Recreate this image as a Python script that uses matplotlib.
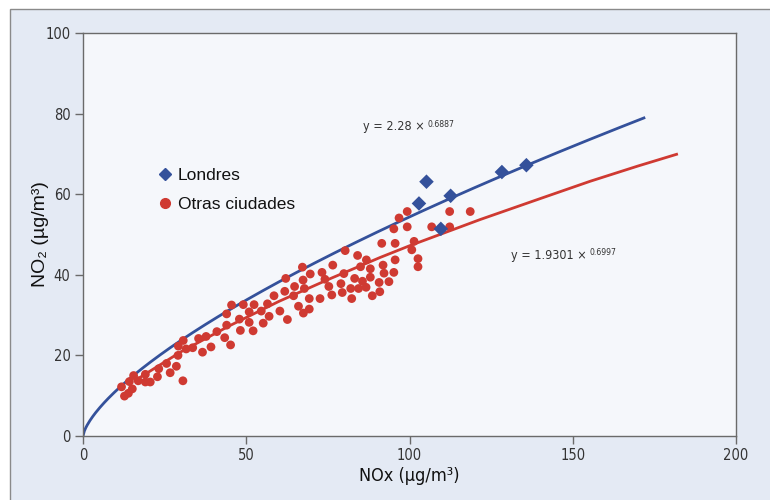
import matplotlib
matplotlib.use("Agg")
import matplotlib.pyplot as plt
from matplotlib.patches import Rectangle
from matplotlib.lines import Line2D
import numpy as np

# ---------------- data ----------------
london_nox = [102.9, 105.2, 109.6, 112.6, 128.3, 135.8]
london_no2 = [57.7, 63.1, 51.4, 59.6, 65.5, 67.2]

other_nox = [11.8, 12.7, 13.9, 14.2, 15.1, 15.5, 16.9, 19.1, 19.1, 20.6,
             22.8, 23.2, 25.6, 26.7, 28.6, 29.1, 29.2, 30.7, 30.6, 31.6,
             33.6, 35.4, 36.6, 37.7, 39.2, 41.0, 43.4, 44.0, 44.0, 45.5,
             45.2, 47.9, 48.2, 49.1, 50.9, 50.9, 52.1, 52.4, 54.6, 55.2,
             56.5, 57.0, 58.5, 60.3, 62.1, 61.8, 62.6, 64.5, 64.8, 66.0,
             67.2, 67.4, 67.8, 67.5, 69.3, 69.6, 69.3, 72.6, 73.2, 74.1,
             75.3, 76.2, 76.5, 79.0, 79.4, 79.9, 80.3, 82.0, 82.3, 83.2,
             84.1, 84.4, 85.0, 85.6, 86.7, 86.8, 88.0, 88.0, 88.6, 90.7,
             90.9, 91.5, 91.9, 92.2, 93.7, 95.2, 95.6, 95.6, 95.2, 96.8,
             99.3, 99.3, 100.7, 101.4, 102.6, 102.6, 106.8, 112.3, 112.3, 118.6]
other_no2 = [12.2, 9.9, 10.6, 13.5, 11.7, 15.0, 13.7, 15.3, 13.4, 13.4,
             14.7, 16.7, 18.0, 15.7, 17.3, 20.0, 22.3, 23.7, 13.7, 21.6,
             21.9, 24.2, 20.8, 24.7, 22.1, 25.9, 24.4, 27.5, 30.3, 32.5,
             22.6, 29.0, 26.2, 32.6, 28.2, 30.8, 26.1, 32.6, 31.0, 28.0,
             32.8, 29.7, 34.8, 31.0, 39.1, 35.9, 28.9, 34.8, 37.1, 32.2,
             41.9, 38.7, 36.6, 30.5, 34.1, 40.2, 31.5, 34.1, 40.6, 38.9,
             37.1, 35.0, 42.4, 37.8, 35.6, 40.3, 46.0, 36.6, 34.1, 39.1,
             44.8, 36.6, 42.0, 38.4, 36.9, 43.7, 39.4, 41.5, 34.8, 38.1,
             35.8, 47.8, 42.4, 40.4, 38.3, 51.4, 47.8, 43.7, 40.6, 54.1,
             55.7, 51.9, 46.2, 48.3, 44.0, 42.0, 51.9, 55.7, 51.9, 55.7]

# fitted trend: London (coefficients shown on chart)
london_a, london_b = 2.28, 0.6887
london_fit_xmax = 171.8
# fitted trend for other cities
other_fit_x = [16, 30, 45, 60, 75, 91, 100, 121.6, 140, 155.3, 170, 181.8]
other_fit_y = [13.8, 20.9, 27.4, 33.4, 38.8, 44.3, 47.2, 53.7, 58.9, 63.2, 67.0, 69.9]

x_ticks = [0, 50, 100, 150, 200]
y_ticks = [0, 20, 40, 60, 80, 100]

labels = ["Londres", "Otras ciudades"]
eq_london = ("y = 2.28 \u00d7", "0.6887")
eq_other = ("y = 1.9301 \u00d7", "0.6997")

# ---------------- style ----------------
BLUE = "#34519b"
RED = "#cf3a32"
narrow = ["Liberation Sans Narrow", "DejaVu Sans"]
regular = ["Liberation Sans", "DejaVu Sans"]

fig = plt.figure(figsize=(7.7, 5.0), dpi=100)
fig.patch.set_facecolor("white")
bg = Rectangle((10 / 770, -0.01), 1.0, 1 - 9 / 500 + 0.01,
               transform=fig.transFigure, facecolor="#e4eaf4",
               edgecolor="#8a8a8a", linewidth=1.0, zorder=-10)
fig.add_artist(bg)

ax = fig.add_axes([83 / 770, 1 - 436 / 500, (736 - 83) / 770, (436 - 33) / 500])
ax.set_zorder(1)
ax.set_facecolor("#f5f7fb")
for s in ax.spines.values():
    s.set_color("#6a6a6a")
    s.set_linewidth(1.0)

ax.set_xlim(0, 200)
ax.set_ylim(0, 100)
ax.set_xticks(x_ticks)
ax.set_yticks(y_ticks)
ax.tick_params(direction="out", length=6, width=1, color="#6a6a6a",
               labelcolor="#333333", labelsize=10.5, pad=3)
for lab in ax.get_xticklabels() + ax.get_yticklabels():
    lab.set_family(narrow)
    lab.set_fontstretch("condensed")

# trend lines
xf = np.linspace(0, london_fit_xmax, 400)
ax.plot(xf, london_a * xf ** london_b, color=BLUE, lw=2.0, zorder=2)
ax.plot(other_fit_x, other_fit_y, color=RED, lw=2.0, zorder=2)

# points
ax.scatter(other_nox, other_no2, s=40, color=RED, edgecolors="none", zorder=3)
ax.scatter(london_nox, london_no2, s=55, marker="D", color=BLUE,
           edgecolors="none", zorder=4)

# equations
def equation(x, y, main, sup):
    t = ax.text(x, y, main, fontsize=9, color="#333333", family=narrow,
                fontstretch="condensed", va="center", ha="left")
    ax.annotate(sup, xy=(1, 1.05), xycoords=t, xytext=(2, 0),
                textcoords="offset points", fontsize=6.2, color="#333333",
                family=narrow, fontstretch="condensed", va="top", ha="left")

equation(85.8, 76.7, *eq_london)
equation(131.1, 44.9, *eq_other)

# legend
handles = [Line2D([], [], ls="none", marker="D", markersize=6.5, color=BLUE),
           Line2D([], [], ls="none", marker="o", markersize=7, color=RED)]
leg = ax.legend(handles, labels, loc="upper left",
                bbox_to_anchor=((158 - 83) / 653, (436 - 168) / 403),
                frameon=False, fontsize=12.5, handlelength=0.8,
                handletextpad=0.35, labelspacing=0.78, borderpad=0,
                borderaxespad=0)
for t in leg.get_texts():
    t.set_family(regular)
    t.set_color("#111111")

ax.set_xlabel("NOx (\u00b5g/m\u00b3)", fontsize=13, family=narrow,
              fontstretch="condensed", color="#111111")
ax.xaxis.set_label_coords(0.5, (436 - 467) / 403)
ax.set_ylabel("NO\u2082 (\u00b5g/m\u00b3)", fontsize=14, family=regular,
              color="#111111")
ax.yaxis.set_label_coords((49 - 83) / 653, 0.5)

fig.savefig("out.png", dpi=100, facecolor=fig.get_facecolor())
